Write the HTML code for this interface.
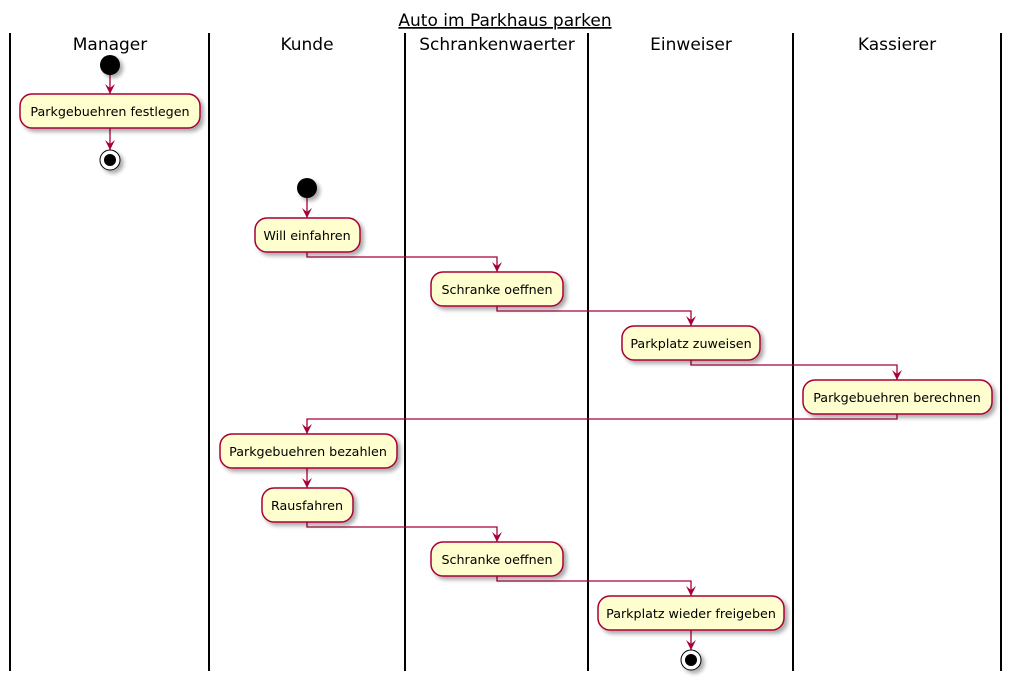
<!DOCTYPE html>
<html><head><meta charset="utf-8"><style>
html,body{margin:0;padding:0;background:#fff}
svg{display:block}
text{font-family:"DejaVu Sans","Liberation Sans",sans-serif}
</style></head><body>
<svg width="1012" height="681" viewBox="0 0 1012 681" xmlns="http://www.w3.org/2000/svg">
<defs>
<filter id="sh" x="-20%" y="-20%" width="150%" height="170%"><feGaussianBlur in="SourceAlpha" stdDeviation="2"/><feOffset dx="3" dy="3"/><feComponentTransfer><feFuncA type="linear" slope="0.35"/></feComponentTransfer><feMerge><feMergeNode/><feMergeNode in="SourceGraphic"/></feMerge></filter>
</defs>
<text x="505" y="26" font-size="17" text-anchor="middle" text-decoration="underline">Auto im Parkhaus parken</text>
<g stroke="#000" stroke-width="2">
<line x1="10" y1="33" x2="10" y2="671"/><line x1="209" y1="33" x2="209" y2="671"/><line x1="405" y1="33" x2="405" y2="671"/><line x1="588" y1="33" x2="588" y2="671"/><line x1="793" y1="33" x2="793" y2="671"/><line x1="1001" y1="33" x2="1001" y2="671"/>
</g>
<g font-size="17" text-anchor="middle">
<text x="110" y="50">Manager</text><text x="307" y="50">Kunde</text><text x="497" y="50">Schrankenwaerter</text><text x="691" y="50">Einweiser</text><text x="897" y="50">Kassierer</text>
</g>
<g fill="none" stroke="#A80036" stroke-width="1.3">
<path d="M110 75V94M307 198V218M307 252V257H497V272M497 306V311H691V326M691 360V365H897V380M897 414V419H307V434M307 468V488M307 522V527H497V542M497 576V581H691V596M691 630V650M110 128V150"/>
</g>
<g fill="#A80036">
<path d="M105 84L110 94L115 84L110 88Z"/><path d="M302 208L307 218L312 208L307 212Z"/><path d="M492 262L497 272L502 262L497 266Z"/><path d="M686 316L691 326L696 316L691 320Z"/><path d="M892 370L897 380L902 370L897 374Z"/><path d="M302 424L307 434L312 424L307 428Z"/><path d="M302 478L307 488L312 478L307 482Z"/><path d="M492 532L497 542L502 532L497 536Z"/><path d="M686 586L691 596L696 586L691 590Z"/><path d="M686 640L691 650L696 640L691 644Z"/><path d="M105 140L110 150L115 140L110 144Z"/>
</g>
<g filter="url(#sh)">
<circle cx="110" cy="65" r="10" fill="#000"/>
<circle cx="307" cy="188" r="10" fill="#000"/>
<circle cx="110" cy="160" r="10" fill="#fff" stroke="#000" stroke-width="1"/>
<circle cx="691" cy="660" r="10" fill="#fff" stroke="#000" stroke-width="1"/>
</g>
<circle cx="110" cy="160" r="6" fill="#000"/><circle cx="691" cy="660" r="6" fill="#000"/>
<g fill="#FEFECE" stroke="#A80036" stroke-width="1.5" filter="url(#sh)">
<rect x="20" y="94" width="180" height="34" rx="12"/>
<rect x="255" y="218" width="105" height="34" rx="12"/>
<rect x="431" y="272" width="132" height="34" rx="12"/>
<rect x="622" y="326" width="138" height="34" rx="12"/>
<rect x="803" y="380" width="189" height="34" rx="12"/>
<rect x="220" y="434" width="177" height="34" rx="12"/>
<rect x="262" y="488" width="91" height="34" rx="12"/>
<rect x="431" y="542" width="132" height="34" rx="12"/>
<rect x="598" y="596" width="186" height="34" rx="12"/>
</g>
<g font-size="12.7" text-anchor="middle">
<text x="110" y="116">Parkgebuehren festlegen</text>
<text x="307" y="240">Will einfahren</text>
<text x="497" y="294">Schranke oeffnen</text>
<text x="691" y="348">Parkplatz zuweisen</text>
<text x="897" y="402">Parkgebuehren berechnen</text>
<text x="308" y="456">Parkgebuehren bezahlen</text>
<text x="307" y="510">Rausfahren</text>
<text x="497" y="564">Schranke oeffnen</text>
<text x="691" y="618">Parkplatz wieder freigeben</text>
</g>
</svg>
</body></html>
